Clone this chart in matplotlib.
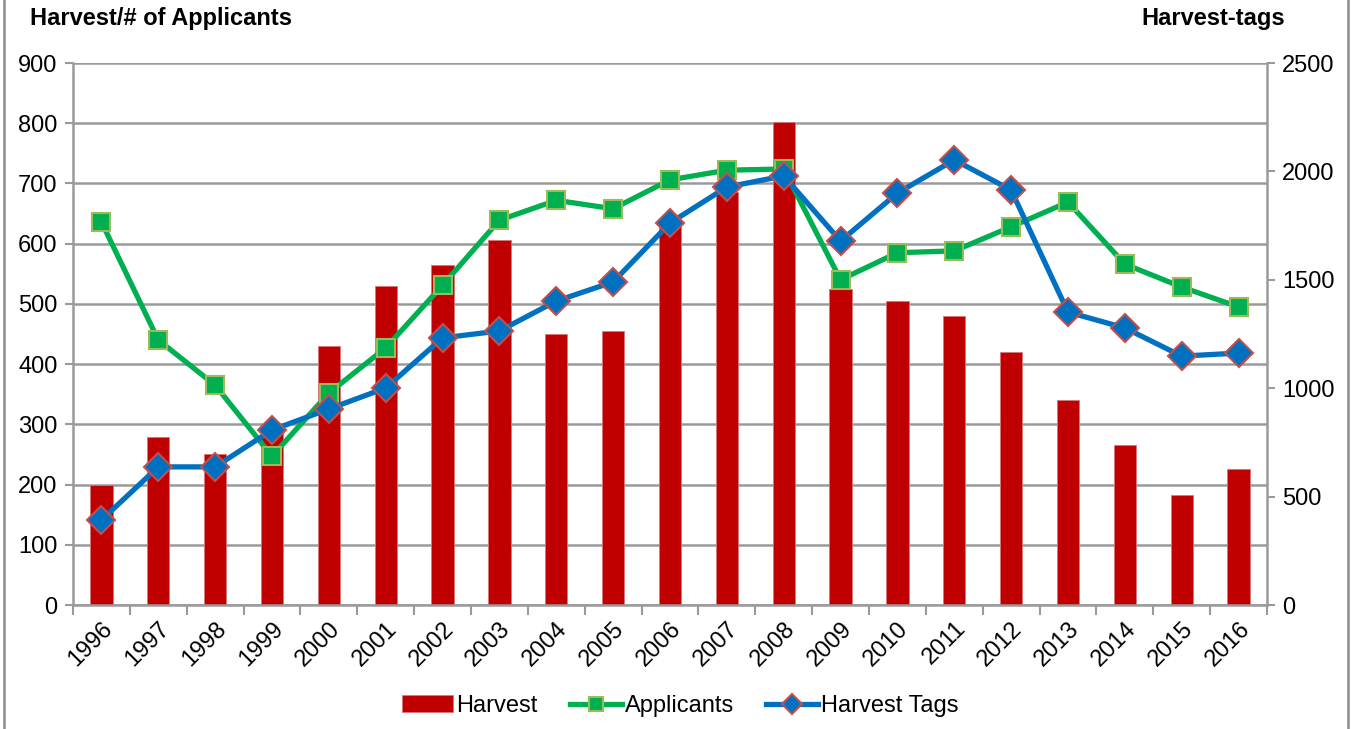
import matplotlib
matplotlib.use("Agg")
import matplotlib.pyplot as plt
from matplotlib.lines import Line2D
import numpy as np

plt.rcParams['font.family'] = ['Liberation Sans', 'DejaVu Sans']

years = [str(y) for y in range(1996, 2017)]
harvest = [200, 279, 251, 286, 430, 530, 565, 606, 450, 455, 636,
           686, 802, 525, 505, 480, 420, 340, 266, 183, 226]
applicants = [636, 440, 365, 247, 352, 427, 531, 639, 672, 658, 706,
              722, 724, 540, 585, 588, 628, 669, 566, 528, 495]
harvest_tags = [392, 637, 637, 807, 904, 1001, 1232, 1264, 1402, 1490, 1762,
                1928, 1979, 1679, 1900, 2053, 1914, 1351, 1278, 1148, 1162]

grid_c = '#9a9a9a'
fs = 17
fig = plt.figure(figsize=(13.55, 7.29), dpi=100)
ax = fig.add_axes([73/1355, 1-605/729, (1267-73)/1355, (605-63)/729])
ax2 = ax.twinx()

x = np.arange(len(years))
bars = ax.bar(x, harvest, width=0.39, color='#C00000', edgecolor='#D9777A', linewidth=0.6,
              zorder=2, label='Harvest')
l1, = ax.plot(x, applicants, color='#00B050', lw=3.8, marker='s', ms=13,
              mfc='#00B050', mec='#9BBB59', mew=1.5, zorder=3, label='Applicants')
l2, = ax2.plot(x, harvest_tags, color='#0070C0', lw=3.8, marker='D', ms=14,
               mfc='#0070C0', mec='#C0504D', mew=1.5, zorder=4, label='Harvest Tags')

ax.set_zorder(1)
ax2.set_zorder(2)
ax.patch.set_visible(False)

ax.set_xlim(-0.5, len(years) - 0.5)
ax.set_ylim(0, 900)
ax.set_yticks(range(0, 901, 100))
ax2.set_ylim(0, 2500)
ax2.set_yticks(range(0, 2501, 500))

ax.yaxis.grid(True, color=grid_c, lw=1.8, zorder=0)
ax.set_axisbelow(True)

ax.set_xticks(x)
ax.set_xticklabels(years, rotation=45, ha='right', rotation_mode='anchor')
ax.set_xticks(np.arange(-0.5, len(years), 1), minor=True)
ax.tick_params(axis='x', which='major', length=0, labelsize=fs, pad=9)
ax.tick_params(axis='x', which='minor', length=7, width=1.5, color=grid_c)
ax.tick_params(axis='y', length=6, width=1.5, color=grid_c, labelsize=fs, pad=5)
ax2.tick_params(axis='y', length=6, width=1.5, color=grid_c, labelsize=fs, pad=5)

for a in (ax, ax2):
    for s in a.spines.values():
        s.set_visible(False)
ax.spines['left'].set_visible(True)
ax.spines['bottom'].set_visible(True)
ax2.spines['right'].set_visible(True)
ax.spines['left'].set_color(grid_c)
ax.spines['left'].set_linewidth(1.8)
ax.spines['bottom'].set_color(grid_c)
ax.spines['bottom'].set_linewidth(1.8)
ax2.spines['right'].set_color(grid_c)
ax2.spines['right'].set_linewidth(1.8)

fig.text(30/1355, 1-19/729, 'Harvest/# of Applicants', fontsize=fs, fontweight='bold',
         ha='left', va='center')
fig.text(1285/1355, 1-19/729, 'Harvest-tags', fontsize=fs, fontweight='bold',
         ha='right', va='center')

# outer chart border
fig.add_artist(Line2D([4/1355, 4/1355], [0, 1], color='#8c8c8c', lw=1.8))
fig.add_artist(Line2D([1348/1355, 1348/1355], [0, 1], color='#8c8c8c', lw=1.8))

fig.legend([bars, l1, l2], ['Harvest', 'Applicants', 'Harvest Tags'], loc='center',
           bbox_to_anchor=(680/1355, 1-706/729), ncol=3, frameon=False, fontsize=fs,
           handlelength=2.2, handletextpad=0.13, columnspacing=1.35, markerscale=0.75)

fig.savefig('out.png', dpi=100)
